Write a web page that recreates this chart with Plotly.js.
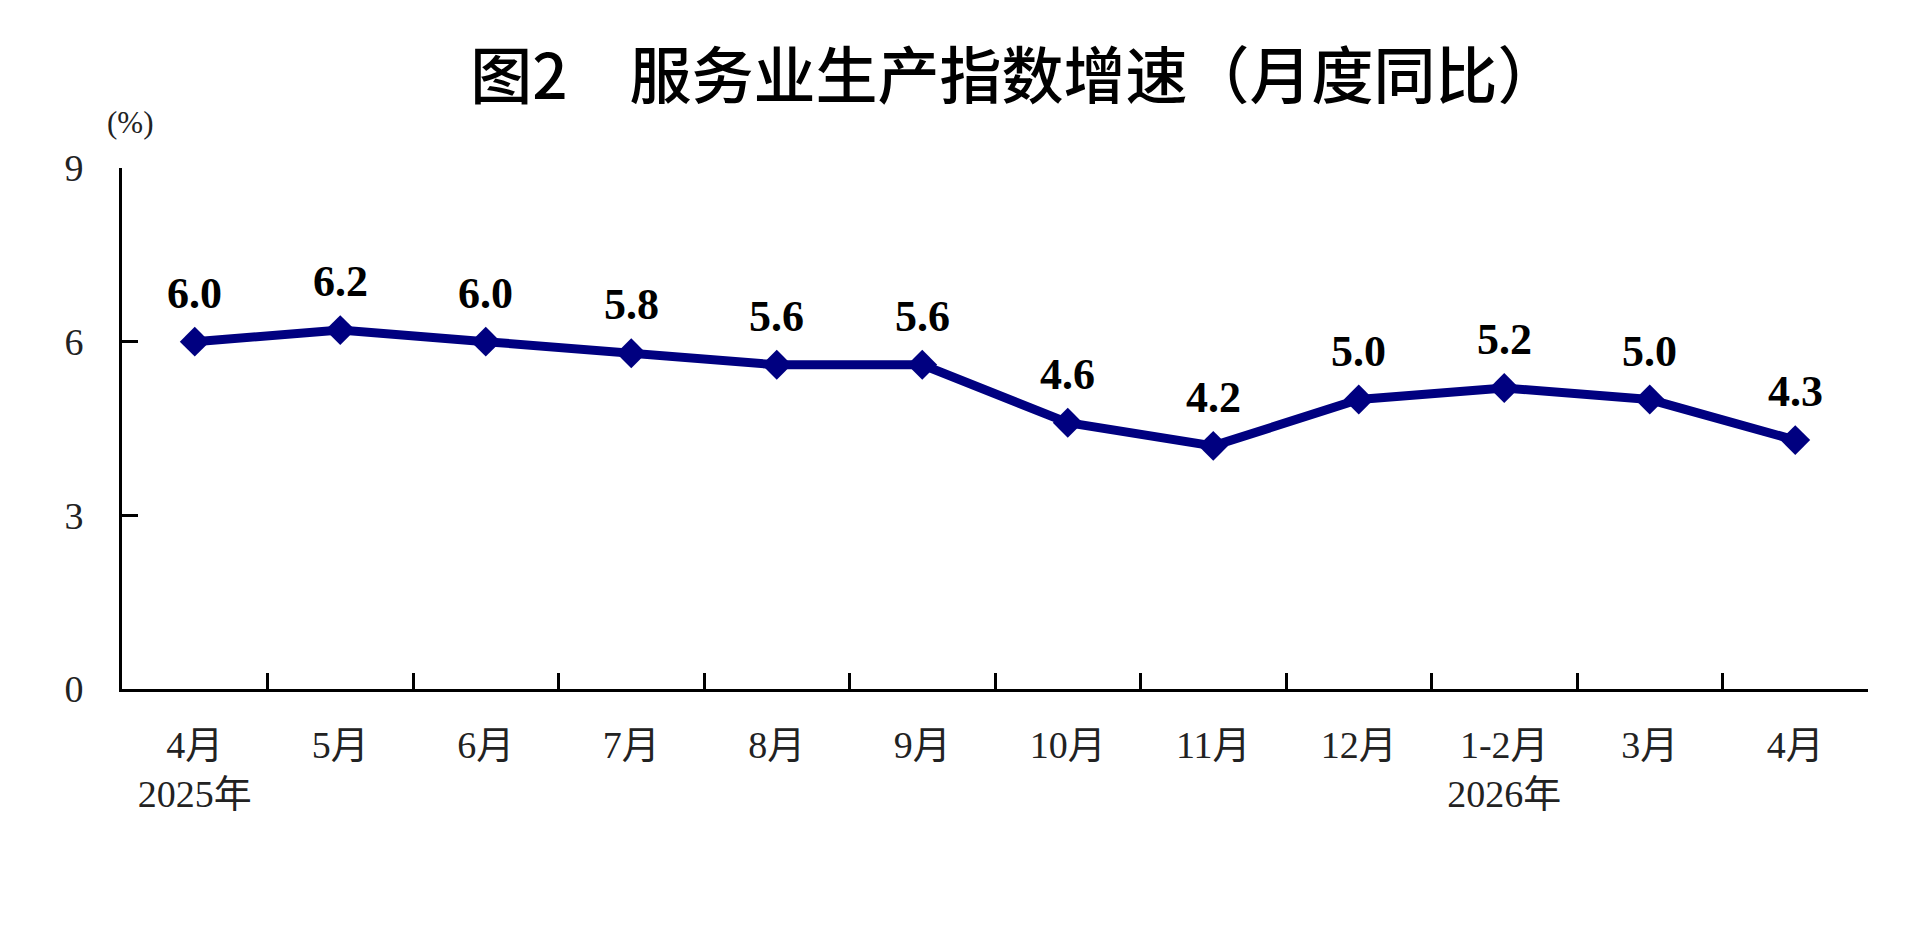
<!DOCTYPE html>
<html>
<head>
<meta charset="utf-8">
<script src="https://cdn.plot.ly/plotly-3.0.1.min.js"></script>
<style>
    html, body { margin: 0; padding: 0; background: #fff; }
    #chart { width: 1920px; height: 927px; }
</style>
</head>
<body>
<div id="chart"></div>
<script>
// Service industry production index, year-on-year growth (%)
const periods = ['2025-04', '2025-05', '2025-06', '2025-07', '2025-08', '2025-09',
                 '2025-10', '2025-11', '2025-12', '2026-01/02', '2026-03', '2026-04'];
const monthLabels = ['4月', '5月', '6月', '7月', '8月', '9月',
                     '10月', '11月', '12月', '1-2月', '3月', '4月'];
const yearLabels = ['2025年', '', '', '', '', '', '', '', '', '2026年', '', ''];
const growth = [6.0, 6.2, 6.0, 5.8, 5.6, 5.6, 4.6, 4.2, 5.0, 5.2, 5.0, 4.3];
const yTicks = [0, 3, 6, 9];

const NAVY = '#000080';
const SERIF = '"Liberation Serif", "Times New Roman", "Noto Sans CJK SC", serif';

function renderChart() {
    const tickText = monthLabels.map((m, i) => yearLabels[i] ? `${m}<br>${yearLabels[i]}` : m);

    const trace = {
        x: periods,
        y: growth,
        type: 'scatter',
        mode: 'lines+markers',
        line: { color: NAVY, width: 9 },
        marker: { symbol: 'diamond', size: 23, color: NAVY },
        hoverinfo: 'skip'
    };

    // value labels above each point
    const valueLabels = periods.map((p, i) => ({
        x: p,
        y: growth[i],
        xref: 'x',
        yref: 'y',
        text: growth[i].toFixed(1),
        showarrow: false,
        yanchor: 'bottom',
        yshift: 22,
        font: { family: SERIF, size: 44, color: '#000', weight: 'bold' }
    }));

    const unitLabel = {
        text: '(%)',
        xref: 'paper',
        yref: 'paper',
        x: 0.0046,
        y: 1.088,
        xanchor: 'center',
        yanchor: 'middle',
        showarrow: false,
        font: { family: SERIF, size: 31, color: '#222' }
    };

    const layout = {
        width: 1920,
        height: 927,
        margin: { l: 122, r: 52, t: 168, b: 238 },
        paper_bgcolor: '#fff',
        plot_bgcolor: '#fff',
        showlegend: false,
        title: {
            text: '图2\u3000服务业生产指数增速（月度同比）',
            font: { family: '"Noto Sans CJK SC", sans-serif', size: 62, color: '#000', weight: 500 },
            xref: 'container',
            yref: 'container',
            x: 0.5286,
            y: 0.917,
            xanchor: 'center',
            yanchor: 'middle'
        },
        xaxis: {
            type: 'category',
            range: [-0.5, periods.length - 0.5],
            tickmode: 'array',
            tickvals: periods,
            ticktext: tickText,
            tickson: 'boundaries',
            ticks: 'inside',
            ticklen: 16,
            tickwidth: 3,
            tickcolor: '#000',
            ticklabelstandoff: 20,
            showline: true,
            linewidth: 3,
            linecolor: '#000',
            showgrid: false,
            zeroline: false,
            tickfont: { family: SERIF, size: 38, color: '#222' }
        },
        yaxis: {
            range: [0, 9],
            tickmode: 'array',
            tickvals: yTicks,
            ticktext: yTicks.map(String),
            ticks: 'inside',
            ticklen: 16,
            tickwidth: 3,
            tickcolor: '#000',
            ticklabelstandoff: 28,
            showline: true,
            linewidth: 3,
            linecolor: '#000',
            showgrid: false,
            zeroline: false,
            tickfont: { family: SERIF, size: 38, color: '#222' }
        },
        annotations: [unitLabel, ...valueLabels]
    };

    Plotly.newPlot('chart', [trace], layout, { displayModeBar: false, staticPlot: true });
}

renderChart();
</script>
</body>
</html>
